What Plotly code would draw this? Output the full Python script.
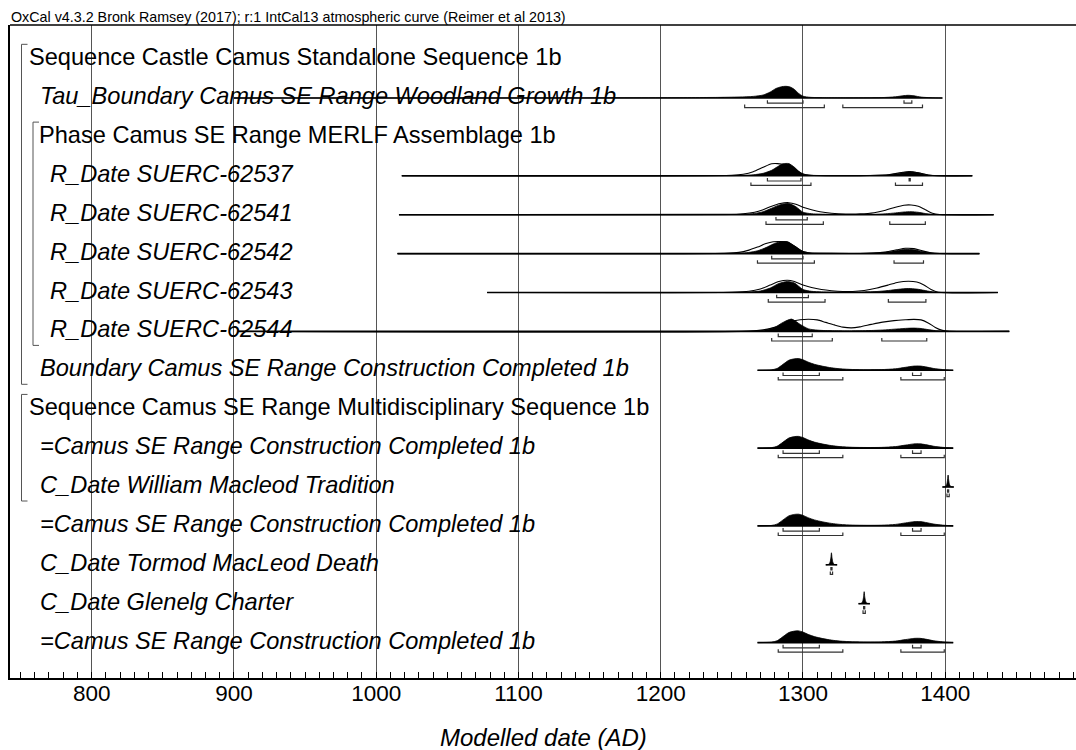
import plotly.graph_objects as go

# ---------------- data ----------------
header_text = "OxCal v4.3.2 Bronk Ramsey (2017); r:1 IntCal13 atmospheric curve (Reimer et al 2013)"
axis_title = "Modelled date (AD)"
tick_years = [800, 900, 1000, 1100, 1200, 1300, 1400]
x_range = [742.6, 1491.9]

labels = [
    "Sequence Castle Camus Standalone Sequence 1b",
    "Tau_Boundary Camus SE Range Woodland Growth 1b",
    "Phase Camus SE Range MERLF Assemblage 1b",
    "R_Date SUERC-62537",
    "R_Date SUERC-62541",
    "R_Date SUERC-62542",
    "R_Date SUERC-62543",
    "R_Date SUERC-62544",
    "Boundary Camus SE Range Construction Completed 1b",
    "Sequence Camus SE Range Multidisciplinary Sequence 1b",
    "=Camus SE Range Construction Completed 1b",
    "C_Date William Macleod Tradition",
    "=Camus SE Range Construction Completed 1b",
    "C_Date Tormod MacLeod Death",
    "C_Date Glenelg Charter",
    "=Camus SE Range Construction Completed 1b",
]
label_italic = [False, True, False, True, True, True, True, True, True,
                False, True, True, True, True, True, True]

# relative probability (peak ~12)
tau_years = [900, 1100, 1200, 1240, 1255, 1265, 1272, 1277, 1281, 1285, 1288, 1291, 1294, 1297, 1300,
             1305, 1315, 1330, 1355, 1365, 1370, 1374, 1378, 1383, 1390, 1398]
tau_post = [0, 0.1, 0.3, 0.6, 1.0, 1.6, 3, 6, 9.5, 11.3, 11.7, 11, 8.5, 4.5, 1.8,
            0.7, 0.3, 0.2, 0.4, 1.2, 2.2, 2.7, 2.2, 0.9, 0.3, 0]

r62537_years = [1018, 1250, 1258, 1265, 1272, 1278, 1282, 1286, 1290, 1294, 1297, 1300, 1305, 1340,
                1360, 1368, 1375, 1381, 1388, 1395, 1419]
r62537_like = [0, 0.5, 1.5, 4, 8.5, 12, 12.2, 11.5, 10.5, 7.5, 4, 1.7, 0.5, 0.2,
               1, 3, 4, 3, 0.8, 0.1, 0]
r62537_post = [0, 0.2, 0.5, 1, 2.5, 5.5, 9, 12, 12.2, 8.5, 4.5, 1.8, 0.6, 0.2,
               1, 2.6, 4.3, 3, 0.8, 0.1, 0]

r62541_years = [1016, 1245, 1258, 1266, 1272, 1278, 1284, 1290, 1295, 1300, 1306, 1312, 1320, 1330,
                1340, 1350, 1358, 1365, 1371, 1376, 1381, 1386, 1391, 1396, 1434]
r62541_like = [0, 0.3, 1, 2.5, 5, 8.5, 11.2, 12, 10.5, 7.5, 5, 3, 1.5, 0.7,
               0.8, 2, 4.5, 7.5, 9.5, 9.7, 8.5, 5, 1.5, 0.2, 0]
r62541_post = [0, 0.1, 0.5, 1.3, 3, 6.5, 10, 11.2, 8, 2.5, 1, 0.6, 0.4, 0.2,
               0.2, 0.4, 0.9, 1.8, 2.7, 3, 2.4, 1.2, 0.4, 0.1, 0]

r62542_years = [1015, 1245, 1255, 1262, 1268, 1274, 1279, 1284, 1289, 1293, 1297, 1300, 1305, 1320,
                1345, 1358, 1366, 1372, 1378, 1384, 1390, 1396, 1424]
r62542_like = [0, 0.3, 1.2, 3.5, 6.5, 10, 11.8, 12, 11.5, 8.5, 4.5, 2, 0.6, 0.2,
               0.3, 1.5, 3.8, 5.3, 5, 2.7, 0.8, 0.1, 0]
r62542_post = [0, 0.1, 0.4, 1.2, 2.8, 6, 9.5, 11.8, 11.8, 8.5, 4.8, 2.2, 0.7, 0.2,
               0.3, 1.3, 3, 4.3, 3.8, 2, 0.6, 0.1, 0]

r62543_years = [1078, 1250, 1262, 1270, 1277, 1283, 1289, 1294, 1300, 1306, 1313, 1320, 1328, 1335,
                1343, 1352, 1360, 1367, 1374, 1380, 1385, 1390, 1395, 1437]
r62543_like = [0, 0.3, 1.2, 3.5, 7.5, 11, 12.3, 11, 7.5, 5, 3, 1.8, 1, 1,
               2, 4.5, 7.5, 10.3, 11.3, 10.5, 7.5, 3, 0.3, 0]
r62543_post = [0, 0.1, 0.5, 1.5, 4.5, 9, 11, 9.5, 3, 1.2, 0.6, 0.4, 0.4, 0.4,
               0.6, 1, 2, 3.2, 4, 3.4, 2.2, 0.9, 0.2, 0]

r62544_years = [903, 1262, 1272, 1280, 1286, 1292, 1298, 1304, 1310, 1316, 1322, 1328, 1334, 1340,
                1348, 1356, 1364, 1372, 1378, 1383, 1388, 1393, 1398, 1403, 1445]
r62544_like = [0, 0.3, 1.5, 4, 7, 10, 11.7, 12.2, 11.5, 9, 6.5, 4.3, 3.5, 4.5,
               7, 9.3, 10.8, 11.6, 12, 11.5, 8.5, 4, 1, 0.1, 0]
r62544_post = [0, 0.1, 1, 4, 9, 12.3, 7, 2.5, 1.3, 0.8, 0.6, 0.5, 0.5, 0.6,
               0.9, 1.4, 2.2, 3, 3.3, 2.9, 1.8, 0.8, 0.3, 0.05, 0]

boundary_years = [1268, 1278, 1282, 1286, 1290, 1294, 1297, 1300, 1304, 1308, 1314, 1320, 1326, 1335,
                  1345, 1355, 1365, 1372, 1378, 1382, 1386, 1392, 1398, 1405.6]
boundary_post = [0, 0.5, 2, 6, 10, 11.5, 11.7, 10.5, 8, 6, 4, 2.5, 1.5, 0.8,
                 0.6, 0.7, 1.5, 3, 4.2, 4.3, 3.5, 1.8, 0.8, 0]

william_years = [1398, 1400, 1401, 1401.6, 1402, 1402.4, 1403, 1404, 1406]
william_post = [0, 0.4, 2.5, 7, 12, 7, 2.5, 0.4, 0]
tormod_years = [1316, 1318, 1319, 1319.6, 1320, 1320.4, 1321, 1322, 1324]
tormod_post = [0, 0.4, 2.5, 7, 12, 7, 2.5, 0.4, 0]
glenelg_years = [1339, 1341, 1342, 1342.6, 1343, 1343.4, 1344, 1345, 1347]
glenelg_post = [0, 0.4, 2.5, 7, 12, 7, 2.5, 0.4, 0]

# highest posterior density ranges
tau_68 = [(1275, 1300), (1371, 1376.5)]
tau_95 = [(1259, 1315), (1328, 1384)]
r62537_68 = [(1275, 1298.6), (1374.6, 1375.4)]
r62537_95 = [(1263.4, 1305.6), (1365, 1384)]
r62541_68 = [(1281, 1303)]
r62541_95 = [(1274, 1314.3), (1361, 1386)]
r62542_68 = [(1278, 1300)]
r62542_95 = [(1268, 1308), (1364, 1384.7)]
r62543_68 = [(1281.5, 1303.8)]
r62543_95 = [(1275.6, 1315.5), (1360, 1386.4)]
r62544_68 = [(1282.6, 1306.5)]
r62544_95 = [(1278, 1320.6), (1355.4, 1387)]
boundary_68 = [(1286, 1311.5), (1377, 1383)]
boundary_95 = [(1282.6, 1328), (1368.8, 1399.3)]
william_68 = [(1401.6, 1402.4)]
william_95 = [(1401.2, 1402.8)]
tormod_68 = [(1319.6, 1320.4)]
tormod_95 = [(1319.2, 1320.8)]
glenelg_68 = [(1342.6, 1343.4)]
glenelg_95 = [(1342.2, 1343.8)]

# (row, years, posterior, likelihood or None, 68% ranges, 95% ranges)
items = [
    (2, tau_years, tau_post, None, tau_68, tau_95),
    (4, r62537_years, r62537_post, r62537_like, r62537_68, r62537_95),
    (5, r62541_years, r62541_post, r62541_like, r62541_68, r62541_95),
    (6, r62542_years, r62542_post, r62542_like, r62542_68, r62542_95),
    (7, r62543_years, r62543_post, r62543_like, r62543_68, r62543_95),
    (8, r62544_years, r62544_post, r62544_like, r62544_68, r62544_95),
    (9, boundary_years, boundary_post, None, boundary_68, boundary_95),
    (11, boundary_years, boundary_post, None, boundary_68, boundary_95),
    (12, william_years, william_post, None, william_68, william_95),
    (13, boundary_years, boundary_post, None, boundary_68, boundary_95),
    (14, tormod_years, tormod_post, None, tormod_68, tormod_95),
    (15, glenelg_years, glenelg_post, None, glenelg_68, glenelg_95),
    (16, boundary_years, boundary_post, None, boundary_68, boundary_95),
]

# grouping brackets: (first row, last row)
groups = [(1, 9, "outer"), (3, 8, "inner"), (10, 12, "outer")]

# ---------------- style ----------------
W, H = 1076, 750
ML, MR, MT, MB = 10, 0, 25, 72
ROW_PX = 38.9
row1_px = 59.1
y_top = 1 - (row1_px - MT) / ROW_PX
y_bot = 1 + (H - MB - row1_px) / ROW_PX
FONT = "Liberation Sans, Arial, sans-serif"
plot_w = W - ML - MR


def px_to_paper_x(px):
    return (px - ML) / plot_w


fig = go.Figure()

for row, yrs, post, like, r68, r95 in items:
    fig.add_trace(go.Scatter(x=[yrs[0], yrs[-1]], y=[row, row], mode="lines",
                             line=dict(color="black", width=1.6), hoverinfo="skip", showlegend=False))
    if like is not None:
        fig.add_trace(go.Scatter(x=yrs, y=[row - v / ROW_PX for v in like], mode="lines",
                                 line=dict(color="black", width=1.1, shape="spline", smoothing=0.7),
                                 hoverinfo="skip", showlegend=False))
    fig.add_trace(go.Scatter(x=yrs, y=[row - v / ROW_PX for v in post], mode="lines",
                             fill="toself", fillcolor="black",
                             line=dict(color="black", width=0.8, shape="spline", smoothing=0.7),
                             hoverinfo="skip", showlegend=False))
    for ranges, off in ((r68, 5.2), (r95, 9.6)):
        xs, ys = [], []
        yb = row + off / ROW_PX
        yt = yb - 3 / ROW_PX
        for a, b in ranges:
            xs += [a, a, b, b, None]
            ys += [yt, yb, yb, yt, None]
        fig.add_trace(go.Scatter(x=xs, y=ys, mode="lines",
                                 line=dict(color="#333333", width=1.2),
                                 hoverinfo="skip", showlegend=False))

# labels
indent_px = {"Sequence": 27, "Phase": 37, "R_Date": 48}
for i, (txt, it) in enumerate(zip(labels, label_italic)):
    row = i + 1
    key = txt.split(" ")[0]
    px = indent_px.get(key, 38)
    fig.add_annotation(x=px_to_paper_x(px), xref="paper", xanchor="left",
                       y=row, yref="y", yanchor="middle", yshift=2,
                       text=f"<i>{txt}</i>" if it else txt, showarrow=False,
                       font=dict(family=FONT, size=23.6, color="black"))

# group brackets
for r0, r1, kind in groups:
    xpx = 21.5 if kind == "outer" else 33
    x0 = px_to_paper_x(xpx)
    x1 = px_to_paper_x(xpx + 6)
    y0 = r0 - 0.38
    y1 = r1 + 0.36
    fig.add_shape(type="path", xref="paper", yref="y",
                  path=f"M {x1} {y0} L {x0} {y0} L {x0} {y1} L {x1} {y1}",
                  line=dict(color="#555555", width=1))

# top border
fig.add_shape(type="line", xref="paper", yref="paper", x0=0, x1=1, y0=1, y1=1,
              line=dict(color="black", width=1.5))

# header
fig.add_annotation(x=0, xref="paper", xanchor="left", xshift=-1, y=1, yref="paper", yanchor="bottom",
                   yshift=-2, text=header_text, showarrow=False,
                   font=dict(family=FONT, size=14.3, color="black"))

# axis title
fig.add_annotation(x=0.5, xref="paper", xanchor="center", y=0, yref="paper", yanchor="middle",
                   yshift=-59, text=f"<i>{axis_title}</i>", showarrow=False,
                   font=dict(family=FONT, size=24, color="black"))

fig.update_layout(
    width=W, height=H,
    margin=dict(l=ML, r=MR, t=MT, b=MB, pad=0),
    paper_bgcolor="white", plot_bgcolor="white",
    showlegend=False,
    xaxis=dict(range=x_range, tickvals=tick_years, ticktext=[str(t) for t in tick_years],
               ticks="inside", ticklen=6, tickcolor="black", tickwidth=1,
               ticklabelstandoff=-6,
               showgrid=True, gridcolor="#555555", gridwidth=1.2,
               showline=True, linecolor="black", linewidth=2, zeroline=False,
               tickfont=dict(family=FONT, size=22.5, color="black"),
               minor=dict(dtick=10, tick0=800, ticks="inside", ticklen=6, tickcolor="black",
                          tickwidth=1, showgrid=False)),
    yaxis=dict(range=[y_bot, y_top], showgrid=False, zeroline=False, showticklabels=False,
               ticks="", showline=True, linecolor="black", linewidth=1.5),
)

fig.write_html("out.html",
               config={"displayModeBar": False},
               post_script="document.body.style.margin='0';document.body.style.padding='0';"
                           "document.body.style.overflow='hidden';")
